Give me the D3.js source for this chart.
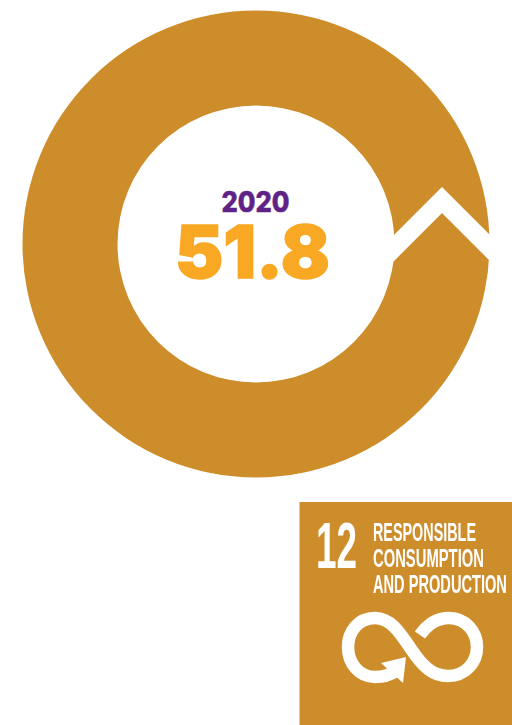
<!DOCTYPE html>
<html>
<head>
<meta charset="utf-8">
<script src="https://cdn.jsdelivr.net/npm/d3@7"></script>
<style>
  html, body { margin: 0; padding: 0; background: #fff; }
  svg { display: block; }
</style>
</head>
<body>
<svg id="chart" width="512" height="725"></svg>
<script>
// Indicator reading shown in the middle of the ring
const years = ["2020"];
const values = [51.8];

// Sustainable Development Goal badge
const goalNumber = ["12"];
const goalTitle = ["RESPONSIBLE", "CONSUMPTION", "AND PRODUCTION"];

const goalColor = "#CE8D2B";
const valueColor = "#F9A823";
const yearColor = "#5F2388";

const svg = d3.select("#chart");
const cx = 256, cy = 244, rInner = 138.5, rOuter = 233.5;

// Squeezes or stretches a text horizontally so it spans the given width
function fitText(sel, x, y, width) {
  sel.each(function () {
    const natural = this.getComputedTextLength();
    d3.select(this).attr("transform", `translate(${x},${y}) scale(${width / natural},1)`);
  });
}

// Ring: the single reading takes the full sweep of the pie
const pie = d3.pie().sort(null);
const arc = d3.arc().innerRadius(rInner).outerRadius(rOuter);
const ring = svg.append("g").attr("transform", `translate(${cx},${cy})`);
ring.selectAll("path").data(pie(values)).join("path")
  .attr("d", arc)
  .attr("fill", goalColor);

// White upward chevron cut across the band
const bandMid = (rInner + rOuter) / 2;
const halfBand = (rOuter - rInner) / 2;
const overrun = 14;
const chevronDrop = 3.5;
const chevron = d3.line();
ring.append("path")
  .attr("d", chevron([
    [bandMid - halfBand - overrun, chevronDrop + overrun],
    [bandMid, chevronDrop - halfBand],
    [bandMid + halfBand + overrun, chevronDrop + overrun]
  ]))
  .attr("fill", "none")
  .attr("stroke", "#fff")
  .attr("stroke-width", 18.4)
  .attr("stroke-linejoin", "miter");

// Centre labels
svg.append("text")
  .attr("font-family", "Inter, 'Open Sans', sans-serif")
  .attr("font-weight", 800)
  .attr("font-size", 28)
  .attr("fill", yearColor)
  .attr("stroke", yearColor)
  .attr("stroke-width", 0.5)
  .text(years[0])
  .call(fitText, 221.5, 211.5, 68);

svg.append("text")
  .attr("font-family", "Inter, 'Open Sans', sans-serif")
  .attr("font-weight", 900)
  .attr("font-size", 73)
  .attr("fill", valueColor)
  .attr("stroke", valueColor)
  .attr("stroke-width", 1.4)
  .text(d3.format(".1f")(values[0]))
  .call(fitText, 175, 277.5, 155);

// Goal badge
const badge = svg.append("g");
badge.append("rect")
  .attr("x", 299.5).attr("y", 502)
  .attr("width", 212.5).attr("height", 223)
  .attr("fill", goalColor);

svg.append("defs").append("filter").attr("id", "soft")
  .append("feGaussianBlur").attr("stdDeviation", 0.7);

const badgeInk = badge.append("g").attr("filter", "url(#soft)");
const condensed = "'Liberation Sans Narrow', 'Liberation Sans', sans-serif";

badgeInk.append("text")
  .attr("font-family", condensed)
  .attr("font-weight", 700)
  .attr("font-size", 64)
  .attr("fill", "#fff")
  .text(goalNumber[0])
  .call(fitText, 316, 568, 41);

const titleBaseline = d3.scalePoint().domain(goalTitle).range([541, 593]);
const titleWidths = d3.scaleOrdinal().domain(goalTitle).range([103, 111, 134]);
badgeInk.selectAll("text.title").data(goalTitle).join("text")
  .attr("class", "title")
  .attr("font-family", condensed)
  .attr("font-weight", 700)
  .attr("font-size", 26)
  .attr("fill", "#fff")
  .text(d => d)
  .each(function (d) {
    d3.select(this).call(fitText, 373, titleBaseline(d), titleWidths(d));
  });

// Infinity loop with its arrowhead
badgeInk.append("path")
  .attr("d", "M420,635 C427,625 436,618 449,618 C466,618 477,632 477,647 C477,663 465,676 448,676 C433,676 423,667 411,649 C399,631 390,618 375,618 C358,618 348,632 348,647 C348,663 359,677 375,677 C383,677 390,675 396,671")
  .attr("fill", "none")
  .attr("stroke", "#fff")
  .attr("stroke-width", 12.5);
badgeInk.append("path")
  .attr("d", "M381,663 L406,657 L403,683 Z")
  .attr("fill", "#fff");
</script>
</body>
</html>
